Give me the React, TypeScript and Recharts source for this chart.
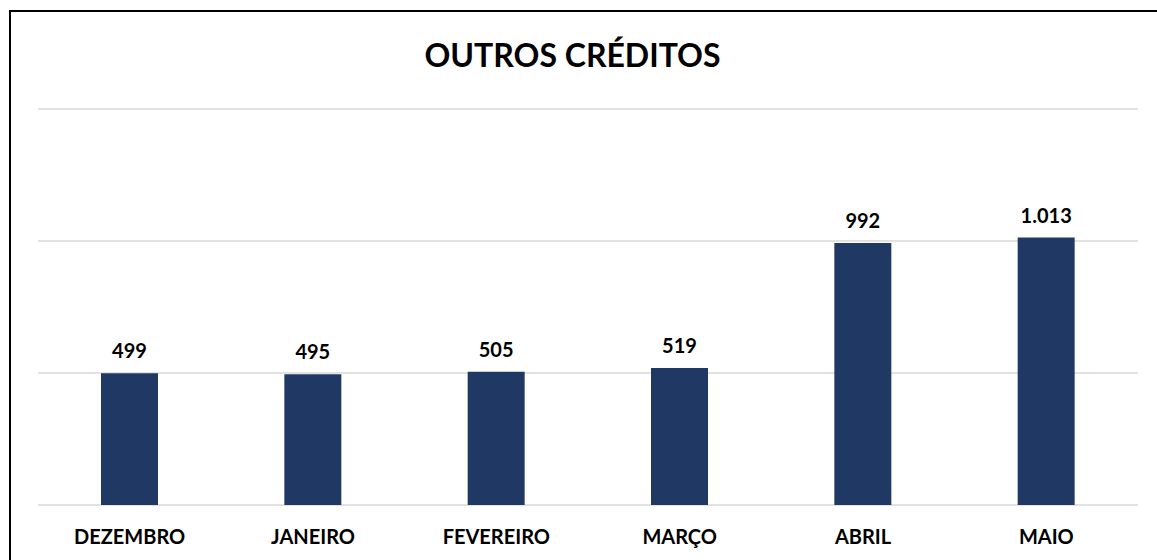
import { Bar, BarChart, CartesianGrid, LabelList, XAxis, YAxis } from "recharts";

const months = ["DEZEMBRO", "JANEIRO", "FEVEREIRO", "MARÇO", "ABRIL", "MAIO"];
const values = [499, 495, 505, 519, 992, 1013];
const yTicks = [0, 500, 1000, 1500];

const data = months.map((month, i) => ({ month, value: values[i] }));

const FONT = "Lato, 'Open Sans', sans-serif";

const fmt = (v: number) => v.toLocaleString("pt-BR");

export default function App() {
  return (
    <div
      style={{
        position: "fixed",
        left: 0,
        top: 0,
        width: 1157,
        height: 560,
        background: "#fff",
        overflow: "hidden",
        fontFamily: FONT,
      }}
    >
      {/* frame edges: only top and left show in the crop */}
      <div style={{ position: "absolute", left: 9, top: 10, width: 1148, height: 2, background: "#000" }} />
      <div style={{ position: "absolute", left: 9, top: 10, width: 2, height: 550, background: "#000" }} />
      <div
        style={{
          position: "absolute",
          left: 0,
          top: 35,
          width: 1145,
          textAlign: "center",
          fontSize: 32,
          fontWeight: 700,
          color: "#000",
        }}
      >
        OUTROS CRÉDITOS
      </div>
      <div style={{ position: "absolute", left: 0, top: 0 }}>
        <BarChart
          width={1157}
          height={560}
          data={data}
          margin={{ top: 109, right: 19, left: 38, bottom: 25 }}
        >
          <CartesianGrid vertical={false} stroke="#d9d9d9" strokeWidth={1.5} />
          <XAxis
            dataKey="month"
            axisLine={false}
            tickLine={false}
            interval={0}
            tick={{ fill: "#000", fontSize: 20, fontWeight: 700, fontFamily: FONT }}
            dy={17}
          />
          <YAxis hide domain={[0, 1500]} ticks={yTicks} />
          <Bar dataKey="value" fill="#203864" barSize={57} isAnimationActive={false}>
            <LabelList
              dataKey="value"
              position="top"
              offset={15}
              formatter={(v: number) => fmt(v)}
              style={{ fill: "#000", fontSize: 20, fontWeight: 700, fontFamily: FONT }}
            />
          </Bar>
        </BarChart>
      </div>
    </div>
  );
}
